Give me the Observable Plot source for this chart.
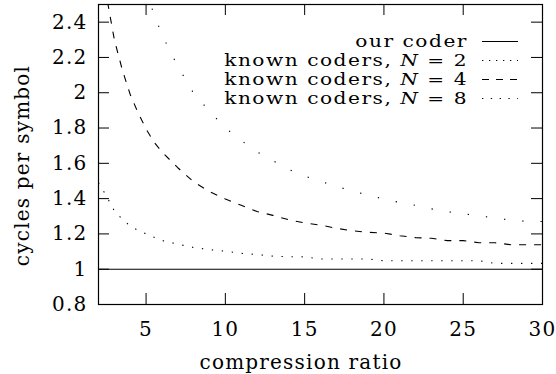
<!DOCTYPE html>
<html>
<head>
<meta charset="utf-8">
<script src="https://cdn.jsdelivr.net/npm/d3@7"></script>
<script src="https://cdn.jsdelivr.net/npm/@observablehq/plot@0.6"></script>
<style>
  html, body { margin: 0; padding: 0; background: white; }
</style>
</head>
<body>
<div id="chart"></div>
<script>
// ---- data ----
const xTicks = [5, 10, 15, 20, 25, 30];
const xTickLabels = ["5", "10", "15", "20", "25", "30"];
const yTicks = [0.8, 1, 1.2, 1.4, 1.6, 1.8, 2, 2.2, 2.4];
const yTickLabels = ["0.8", "1", "1.2", "1.4", "1.6", "1.8", "2", "2.2", "2.4"];

const ratioOurs = [2, 30];
const cyclesOurs = [1, 1];

const ratioN2 = [2, 2.5, 3, 3.5, 4, 4.5, 5, 6, 7, 8, 9, 10, 11, 12, 13, 14, 15, 16, 17, 18, 19, 20, 21, 22, 23, 24, 25, 26, 27, 28, 29, 30];
const cyclesN2 = [1.49, 1.415, 1.33, 1.283, 1.245, 1.22, 1.2, 1.163, 1.142, 1.123, 1.111, 1.102, 1.09, 1.083, 1.074, 1.071, 1.07, 1.058, 1.058, 1.058, 1.058, 1.048, 1.048, 1.048, 1.048, 1.048, 1.048, 1.048, 1.033, 1.033, 1.033, 1.033];

const ratioN4 = [2, 2.5, 3, 3.5, 4, 4.5, 5, 5.5, 6, 7, 8, 9, 10, 11, 12, 13, 14, 15, 16, 17, 18, 19, 20, 21, 22, 23, 24, 25, 26, 27, 28, 29, 30];
const cyclesN4 = [2.85, 2.55, 2.3, 2.13, 1.99, 1.885, 1.795, 1.72, 1.665, 1.575, 1.495, 1.44, 1.398, 1.362, 1.327, 1.305, 1.28, 1.262, 1.25, 1.232, 1.218, 1.209, 1.205, 1.19, 1.179, 1.175, 1.162, 1.162, 1.15, 1.15, 1.139, 1.139, 1.139];

const ratioN8 = [5, 5.5, 6, 6.5, 7, 8, 9, 10, 11, 12, 13, 14, 15, 16, 17, 18, 19, 20, 21, 22, 23, 24, 25, 26, 27, 28, 29, 30];
const cyclesN8 = [2.575, 2.445, 2.33, 2.237, 2.15, 1.996, 1.895, 1.8, 1.73, 1.665, 1.615, 1.565, 1.528, 1.498, 1.47, 1.443, 1.42, 1.397, 1.378, 1.362, 1.342, 1.326, 1.314, 1.303, 1.29, 1.278, 1.271, 1.27];

const legendLabels = ["our coder", "known coders, ", "known coders, ", "known coders, "];
const legendN = [null, "2", "4", "8"];
const xLabel = "compression ratio";
const yLabel = "cycles per symbol";

// ---- layout ----
const W = 556, H = 374;
const mL = 98, mR = 14, mT = 4, mB = 70;
const innerW = W - mL - mR, innerH = H - mT - mB;
const tickLen = 11;
const FONT = "DejaVu Serif";

const styles = [
  {stroke: "black", dash: null, legendDash: null},
  {stroke: "black", dash: "1.3,8.7", legendDash: "1.3,5.7"},
  {stroke: "black", dash: "7,8", legendDash: "7,7"},
  {stroke: "black", dash: "1.3,17", legendDash: "1.3,7.5"}
];

const series = [
  {x: ratioOurs, y: cyclesOurs},
  {x: ratioN2, y: cyclesN2},
  {x: ratioN4, y: cyclesN4},
  {x: ratioN8, y: cyclesN8}
];

const lineMarks = series.map((s, k) =>
  Plot.line(d3.zip(s.x, s.y), {
    x: d => d[0], y: d => d[1],
    stroke: styles[k].stroke, strokeWidth: 1.1,
    strokeDasharray: styles[k].dash, strokeLinecap: "butt",
    clip: true
  })
);

const svg = Plot.plot({
  width: W, height: H,
  marginLeft: mL, marginRight: mR, marginTop: mT, marginBottom: mB,
  style: {fontFamily: FONT, fontSize: "20px", color: "black", background: "white", letterSpacing: "1.2px", overflow: "visible"},
  x: {domain: [2, 30]},
  y: {domain: [0.8, 2.5]},
  marks: [
    Plot.axisX(xTicks, {anchor: "bottom", tickSize: 0, tickPadding: 17, label: null,
      tickFormat: d => xTickLabels[xTicks.indexOf(d)], fontSize: 20}),
    Plot.axisY(yTicks, {anchor: "left", tickSize: 0, tickPadding: 11, label: null,
      tickFormat: d => yTickLabels[yTicks.indexOf(d)], fontSize: 20}),
    Plot.tickX(xTicks, {x: d => d, insetTop: innerH - tickLen, stroke: "black"}),
    Plot.tickX(xTicks, {x: d => d, insetBottom: innerH - tickLen, stroke: "black"}),
    Plot.tickY(yTicks, {y: d => d, insetRight: innerW - tickLen, stroke: "black"}),
    Plot.tickY(yTicks, {y: d => d, insetLeft: innerW - tickLen, stroke: "black"}),
    ...lineMarks,
    Plot.frame({stroke: "black", strokeWidth: 1.2})
  ]
});

document.getElementById("chart").appendChild(svg);
const root = d3.select(svg);

function addText(parent, x, y, anchor, str, size) {
  return parent.append("text")
    .attr("x", x).attr("y", y)
    .attr("text-anchor", anchor)
    .attr("fill", "black")
    .attr("font-family", FONT)
    .style("font-family", "'DejaVu Serif', serif")
    .attr("font-size", size)
    .text(str);
}

// axis titles
addText(root, 301, 369, "middle", xLabel, 20);
addText(root, 0, 0, "middle", yLabel, 20)
  .attr("transform", "translate(28.5,165.5) rotate(-90)");

// legend (inside the frame, top right); wide, short lettering as in the reference
const legendRight = 468, sampleX1 = 482, sampleX2 = 518;
const baseY0 = 46.5, rowStep = 19, legendSize = 16, legendStretch = 1.26;
legendLabels.forEach((lab, k) => {
  const by = baseY0 + k * rowStep;
  const g = root.append("g")
    .attr("transform", `translate(${legendRight},${by}) scale(${legendStretch},1)`);
  const t = g.append("text")
    .attr("x", 0).attr("y", 0)
    .attr("text-anchor", "end")
    .attr("fill", "black")
    .attr("font-family", FONT)
    .style("font-family", "'DejaVu Serif', serif")
    .attr("font-size", legendSize);
  if (legendN[k] === null) {
    t.text(lab);
  } else {
    t.append("tspan").text(lab);
    t.append("tspan").attr("font-style", "italic").text("N");
    t.append("tspan").text(" = " + legendN[k]);
  }
  root.append("line")
    .attr("x1", sampleX1).attr("x2", sampleX2)
    .attr("y1", by - 5).attr("y2", by - 5)
    .attr("stroke", "black").attr("stroke-width", 1.1)
    .attr("stroke-dasharray", styles[k].legendDash);
});

// serif face on the axis texts too
root.selectAll("text").attr("font-family", FONT).style("font-family", "'DejaVu Serif', serif");
</script>
</body>
</html>
